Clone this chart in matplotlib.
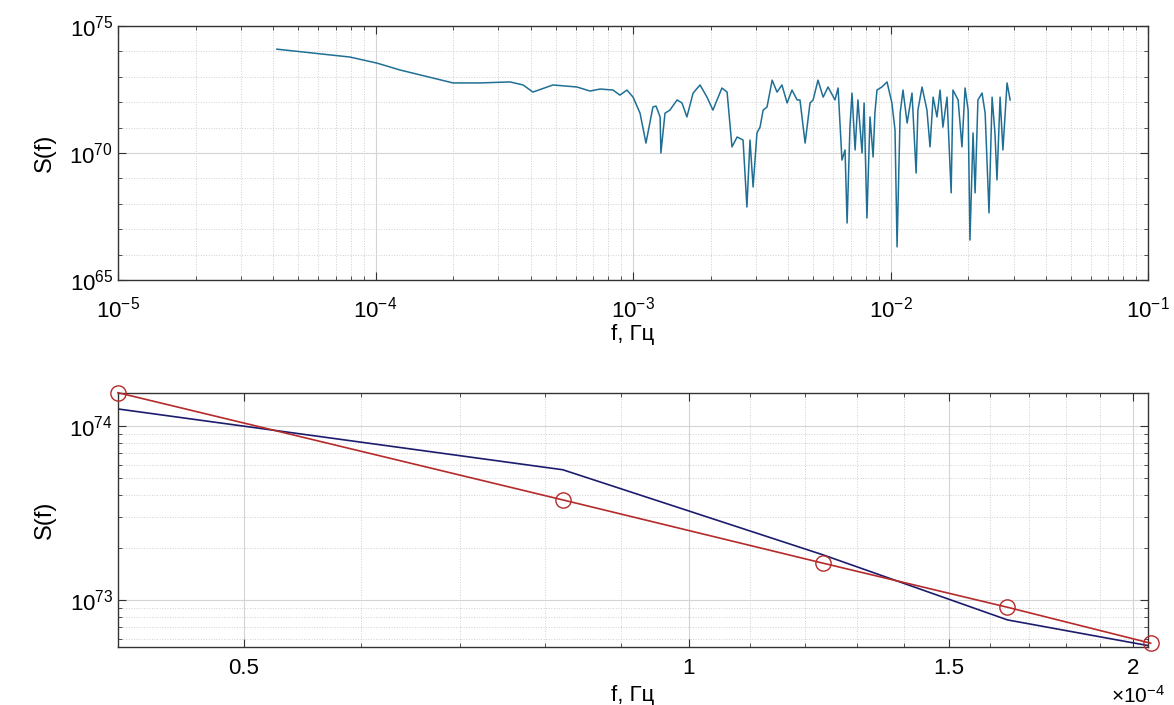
import numpy as np
import matplotlib
matplotlib.use("Agg")
import matplotlib.pyplot as plt
from matplotlib.ticker import FixedLocator, FixedFormatter, NullFormatter

plt.rcParams['font.family'] = ['Liberation Sans', 'DejaVu Sans']
plt.rcParams['mathtext.fontset'] = 'custom'
plt.rcParams['mathtext.rm'] = 'Liberation Sans'
plt.rcParams['mathtext.it'] = 'Liberation Sans:italic'

# spectrum S(f) (log10 of f in Hz, log10 of S)
top_log_f = [-4.383, -4.099, -3.994, -3.905, -3.699, -3.594, -3.478, -3.427, -3.389, -3.311,
             -3.218, -3.167, -3.128, -3.078, -3.051, -3.024, -3.000, -2.973, -2.950, -2.923,
             -2.911, -2.895, -2.892, -2.876, -2.857, -2.829, -2.810, -2.791, -2.767, -2.740,
             -2.713, -2.690, -2.655, -2.635, -2.616, -2.596, -2.573, -2.558, -2.546, -2.534,
             -2.519, -2.507, -2.495, -2.480, -2.460, -2.441, -2.422, -2.402, -2.383, -2.363,
             -2.352, -2.332, -2.313, -2.301, -2.282, -2.262, -2.243, -2.216, -2.204, -2.189,
             -2.177, -2.169, -2.158, -2.150, -2.138, -2.127, -2.111, -2.103, -2.092, -2.080,
             -2.068, -2.061, -2.053, -2.034, -2.014, -1.995, -1.983, -1.975, -1.963, -1.952,
             -1.936, -1.917, -1.901, -1.894, -1.878, -1.859, -1.847, -1.835, -1.820, -1.808,
             -1.797, -1.781, -1.765, -1.758, -1.738, -1.723, -1.711, -1.699, -1.692, -1.680,
             -1.672, -1.661, -1.645, -1.633, -1.618, -1.606, -1.595, -1.587, -1.575, -1.564,
             -1.548, -1.536]
top_log_s = [74.09, 73.78, 73.54, 73.27, 72.76, 72.76, 72.80, 72.68, 72.40, 72.68,
             72.60, 72.44, 72.52, 72.48, 72.28, 72.48, 72.20, 71.57, 70.39, 71.81,
             71.85, 71.42, 70.00, 71.57, 71.69, 72.09, 71.97, 71.42, 72.36, 72.68,
             72.20, 71.69, 72.56, 72.40, 70.24, 70.63, 70.51, 67.87, 70.51, 68.66,
             70.79, 71.02, 71.69, 71.81, 72.87, 72.40, 72.68, 71.97, 72.48, 72.09,
             72.09, 70.39, 71.97, 72.09, 72.87, 72.20, 72.60, 72.09, 72.56, 69.72,
             70.12, 67.24, 71.02, 72.36, 70.12, 72.09, 70.00, 71.97, 67.44, 71.42,
             69.84, 71.57, 72.48, 72.60, 72.80, 71.97, 70.91, 66.30, 71.57, 72.48,
             71.18, 72.36, 69.21, 71.69, 72.60, 71.69, 70.24, 72.20, 71.42, 72.48,
             71.02, 72.20, 68.43, 72.48, 72.09, 70.24, 72.56, 71.69, 66.57, 70.79,
             68.43, 72.09, 72.36, 71.57, 67.64, 72.20, 70.79, 68.94, 72.20, 70.12,
             72.76, 72.09]

# low-frequency part and power-law fit
fit_f = [0.411e-4, 0.822e-4, 1.233e-4, 1.644e-4, 2.055e-4]
spec_s = [1.25e74, 5.6e73, 1.82e73, 7.7e72, 5.45e72]
fit_s = [1.55e74, 3.76e73, 1.63e73, 9.1e72, 5.66e72]

f_top = 10 ** np.array(top_log_f)
s_top = 10 ** np.array(top_log_s)

fig = plt.figure(figsize=(11.74, 7.05), dpi=100)
ax1 = fig.add_axes([0.1005, 0.603, 0.8775, 0.360])
ax2 = fig.add_axes([0.1005, 0.082, 0.8775, 0.361])


def style(ax):
    ax.grid(True, which='major', color='#d4d4d4', lw=0.8, ls='-')
    ax.grid(True, which='minor', color='#cfcfcf', lw=0.7, ls=':')
    ax.tick_params(which='both', direction='in', top=True, right=True,
                   labelsize=16, color='#333333')
    ax.tick_params(which='major', length=6)
    ax.tick_params(which='minor', length=3)
    for sp in ax.spines.values():
        sp.set_color('#333333')
        sp.set_linewidth(1.0)
    ax.set_axisbelow(True)


# top panel
ax1.plot(f_top, s_top, color='#1f6f95', lw=1.1)
ax1.set_xscale('log')
ax1.set_yscale('log')
ax1.set_xlim(1e-5, 1e-1)
ax1.set_ylim(1e65, 1e75)
ax1.yaxis.set_major_locator(FixedLocator([1e65, 1e70, 1e75]))
ax1.yaxis.set_major_formatter(FixedFormatter(['$10^{65}$', '$10^{70}$', '$10^{75}$']))
ax1.yaxis.set_minor_locator(FixedLocator([10.0 ** k for k in range(66, 75) if k != 70]))
ax1.yaxis.set_minor_formatter(NullFormatter())
ax1.xaxis.set_major_formatter(FixedFormatter([]))
ax1.set_xticks([1e-5, 1e-4, 1e-3, 1e-2, 1e-1])
ax1.set_xticklabels(['$10^{-5}$', '$10^{-4}$', '$10^{-3}$', '$10^{-2}$', '$10^{-1}$'])
ax1.set_xlabel('f, Гц', fontsize=16, labelpad=1)
ax1.set_ylabel('S(f)', fontsize=17, labelpad=10)
style(ax1)
ax1.tick_params(axis='x', which='major', pad=12)

# bottom panel
ax2.plot(fit_f, spec_s, color='#1c1c6e', lw=1.2)
ax2.plot(fit_f, fit_s, color='#b52a2a', lw=1.2, marker='o', ms=11,
         mfc='none', mec='#b52a2a', mew=1.0, clip_on=False, zorder=3)
ax2.set_xscale('log')
ax2.set_yscale('log')
ax2.set_xlim(0.411e-4, 2.047e-4)
ax2.set_ylim(5.37e72, 1.55e74)
ax2.xaxis.set_major_locator(FixedLocator([0.5e-4, 1e-4, 1.5e-4, 2e-4]))
ax2.xaxis.set_major_formatter(FixedFormatter(['0.5', '1', '1.5', '2']))
ax2.xaxis.set_minor_locator(FixedLocator([k * 1e-5 for k in range(5, 21) if k not in (5, 10, 15, 20)]))
ax2.xaxis.set_minor_formatter(NullFormatter())
ax2.yaxis.set_major_locator(FixedLocator([1e73, 1e74]))
ax2.yaxis.set_major_formatter(FixedFormatter(['$10^{73}$', '$10^{74}$']))
ax2.yaxis.set_minor_formatter(NullFormatter())
ax2.set_xlabel('f, Гц', fontsize=16, labelpad=4)
ax2.set_ylabel('S(f)', fontsize=17, labelpad=10)
style(ax2)
ax2.tick_params(axis='x', which='major', pad=8)
ax2.text(0.99, -0.19, r'$\times 10^{-4}$', transform=ax2.transAxes,
         fontsize=15, ha='center', va='center')

fig.savefig('out.png', dpi=100)
